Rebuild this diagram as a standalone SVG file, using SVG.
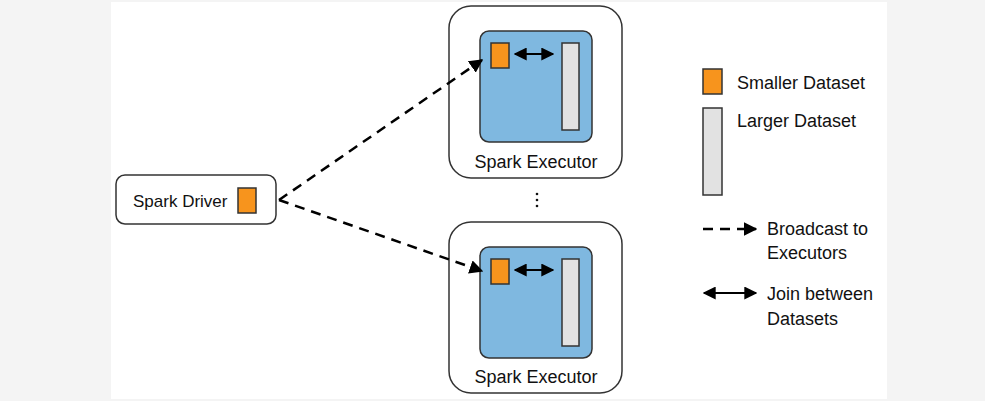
<svg xmlns="http://www.w3.org/2000/svg" width="985" height="401" viewBox="0 0 985 401">
<style>
text{font-family:"Liberation Sans",Arial,sans-serif;font-size:18px;fill:#111}
.box{fill:#fff;stroke:#333;stroke-width:1.5}
.inner{fill:#7fb8e0;stroke:#333;stroke-width:1.5}
.small{fill:#f7941d;stroke:#333;stroke-width:1.5}
.large{fill:#e2e2e2;stroke:#333;stroke-width:1.5}
.dash{fill:none;stroke:#000;stroke-width:2.5;stroke-dasharray:10 7}
.solid{fill:none;stroke:#000;stroke-width:2}
</style>
<defs>
<marker id="ah" viewBox="0 0 10 10" refX="9" refY="5" markerWidth="5.5" markerHeight="5.5" markerUnits="strokeWidth" orient="auto-start-reverse">
<path d="M0,0 L10,5 L0,10 Z" fill="#000"/>
</marker>
<marker id="ah2" viewBox="0 0 10 10" refX="9" refY="5" markerWidth="6.5" markerHeight="6.5" markerUnits="strokeWidth" orient="auto-start-reverse">
<path d="M0,0 L10,5 L0,10 Z" fill="#000"/>
</marker>
</defs>
<rect x="0" y="0" width="985" height="401" fill="#f4f4f4"/>
<rect x="111" y="2" width="776" height="397" fill="#fff"/>

<g id="driver">
<rect class="box" x="116" y="175" width="160" height="49" rx="9"/>
<text x="133" y="207" style="font-size:17px">Spark Driver</text>
<rect class="small" x="238" y="188" width="18" height="25"/>
</g>

<g id="executor-top">
<rect class="box" x="449" y="6" width="173" height="172" rx="22"/>
<rect class="inner" x="480" y="31" width="112" height="111" rx="9"/>
<rect class="small" x="491" y="43" width="18" height="25"/>
<rect class="large" x="562" y="43" width="17" height="87"/>
<text x="536" y="168" text-anchor="middle">Spark Executor</text>
</g>

<g id="ellipsis">
<circle cx="537" cy="194" r="1.3" fill="#111"/>
<circle cx="537" cy="200" r="1.3" fill="#111"/>
<circle cx="537" cy="206" r="1.3" fill="#111"/>
</g>

<g id="executor-bottom">
<rect class="box" x="449" y="222" width="173" height="171" rx="22"/>
<rect class="inner" x="480" y="247" width="112" height="111" rx="9"/>
<rect class="small" x="491" y="259" width="18" height="25"/>
<rect class="large" x="562" y="259" width="17" height="87"/>
<text x="536" y="383" text-anchor="middle">Spark Executor</text>
</g>

<g id="legend">
<rect class="small" x="703" y="69" width="19" height="25"/>
<text x="737" y="89">Smaller Dataset</text>
<rect class="large" x="703" y="108" width="19" height="87"/>
<text x="737" y="127">Larger Dataset</text>
<line class="dash" x1="703" y1="229" x2="756" y2="229" marker-end="url(#ah)"/>
<text x="767" y="235">Broadcast to</text>
<text x="767" y="259">Executors</text>
<line class="solid" x1="704" y1="293" x2="756" y2="293" marker-start="url(#ah2)" marker-end="url(#ah2)"/>
<text x="767" y="300">Join between</text>
<text x="767" y="325">Datasets</text>
</g>

<g id="connectors">
<line class="dash" x1="279" y1="200" x2="482" y2="60" marker-end="url(#ah)"/>
<line class="dash" x1="279" y1="200" x2="482" y2="271" marker-end="url(#ah)"/>
<line class="solid" x1="515" y1="54" x2="553" y2="54" marker-start="url(#ah2)" marker-end="url(#ah2)"/>
<line class="solid" x1="515" y1="270" x2="553" y2="270" marker-start="url(#ah2)" marker-end="url(#ah2)"/>
</g>
</svg>
